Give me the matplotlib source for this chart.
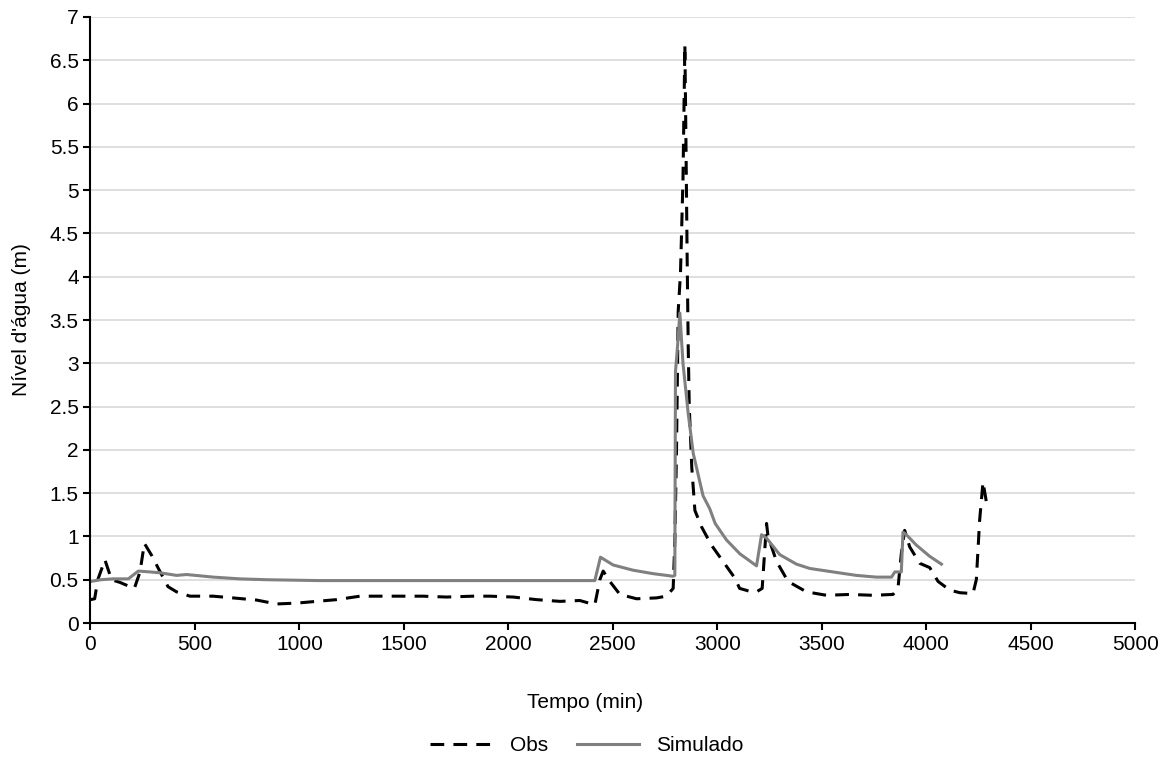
import matplotlib
matplotlib.use('Agg')
import matplotlib.pyplot as plt
import numpy as np

plt.rcParams['font.family'] = ['Liberation Sans', 'DejaVu Sans']

# Observed water level (dashed black)
obs_t = [0, 20, 35, 69, 101, 140, 189, 210, 237, 258, 293, 325, 371, 412, 476,
         587, 682, 795, 891, 987, 1082, 1178, 1290, 1417, 1591, 1704, 1831, 1912,
         2023, 2135, 2247, 2342, 2414, 2438, 2454, 2486, 2534, 2614, 2709, 2757,
         2789, 2797, 2805, 2813, 2824, 2836, 2845, 2850, 2856, 2861, 2866, 2872,
         2878, 2893, 2925, 2972, 3028, 3084, 3107, 3150, 3188, 3215, 3236, 3243,
         3284, 3339, 3427, 3523, 3634, 3746, 3841, 3865, 3881, 3897, 3921, 3969,
         4017, 4057, 4113, 4161, 4224, 4240, 4256, 4272, 4288]
obs_h = [0.27, 0.28, 0.50, 0.73, 0.50, 0.47, 0.42, 0.40, 0.59, 0.92, 0.78, 0.63,
         0.42, 0.36, 0.31, 0.31, 0.29, 0.265, 0.22, 0.23, 0.25, 0.27, 0.31, 0.31,
         0.31, 0.30, 0.31, 0.31, 0.30, 0.27, 0.25, 0.26, 0.21, 0.50, 0.60, 0.48,
         0.33, 0.28, 0.29, 0.31, 0.40, 0.95, 2.00, 3.60, 4.04, 5.13, 6.68, 5.60,
         4.20, 3.20, 2.50, 2.15, 1.80, 1.30, 1.11, 0.90, 0.71, 0.52, 0.40, 0.37,
         0.36, 0.40, 1.15, 1.00, 0.71, 0.48, 0.36, 0.32, 0.33, 0.32, 0.33, 0.40,
         0.80, 1.07, 0.88, 0.69, 0.64, 0.48, 0.38, 0.35, 0.34, 0.50, 1.19, 1.63,
         1.40]

# Simulated water level (solid grey)
sim_t = [0, 50, 108, 181, 229, 285, 333, 412, 460, 588, 715, 843, 1098, 2414,
         2441, 2502, 2597, 2693, 2789, 2797, 2800, 2810, 2821, 2836, 2861, 2885,
         2932, 2964, 2990, 3044, 3108, 3188, 3212, 3236, 3299, 3379, 3443, 3554,
         3666, 3762, 3834, 3850, 3881, 3889, 3905, 3953, 4017, 4073]
sim_h = [0.48, 0.50, 0.51, 0.51, 0.60, 0.59, 0.58, 0.55, 0.56, 0.53, 0.51, 0.50,
         0.49, 0.49, 0.76, 0.67, 0.61, 0.57, 0.54, 0.55, 2.90, 3.20, 3.58, 3.00,
         2.42, 1.96, 1.47, 1.32, 1.15, 0.96, 0.80, 0.66, 1.02, 0.98, 0.79, 0.68,
         0.63, 0.59, 0.55, 0.53, 0.53, 0.59, 0.59, 1.05, 1.02, 0.90, 0.77, 0.68]

fig = plt.figure(figsize=(11.69, 7.62), dpi=100)
ax = fig.add_axes([0.0774, 0.1824, 0.8936, 0.7953])

ax.plot(obs_t, obs_h, color='black', lw=2.2, dashes=(4.5, 3.0), label='Obs')
ax.plot(sim_t, sim_h, color='#808080', lw=2.2, label='Simulado')

ax.set_xlim(0, 5000)
ax.set_ylim(0, 7)
ax.set_xticks(np.arange(0, 5001, 500))
ax.set_yticks(np.arange(0, 7.01, 0.5))
ax.set_yticklabels([f'{v:g}' for v in np.arange(0, 7.01, 0.5)])
ax.grid(axis='y', color='#d9d9d9', lw=1.2)
ax.set_axisbelow(True)

for s in ['top', 'right']:
    ax.spines[s].set_visible(False)
for s in ['left', 'bottom']:
    ax.spines[s].set_linewidth(1.5)
ax.tick_params(direction='out', length=5, width=1.5, labelsize=15)

ax.set_xlabel('Tempo (min)', fontsize=15)
ax.xaxis.set_label_coords(0.473, -0.115)
ax.set_ylabel("Nível d'água (m)", fontsize=15)
ax.yaxis.set_label_coords(-0.057, 0.5)

fig.legend(loc='lower center', bbox_to_anchor=(0.502, -0.016), ncol=2,
           frameon=False, fontsize=15, handlelength=3.0, columnspacing=1.4)

fig.savefig('out.png', dpi=100)
